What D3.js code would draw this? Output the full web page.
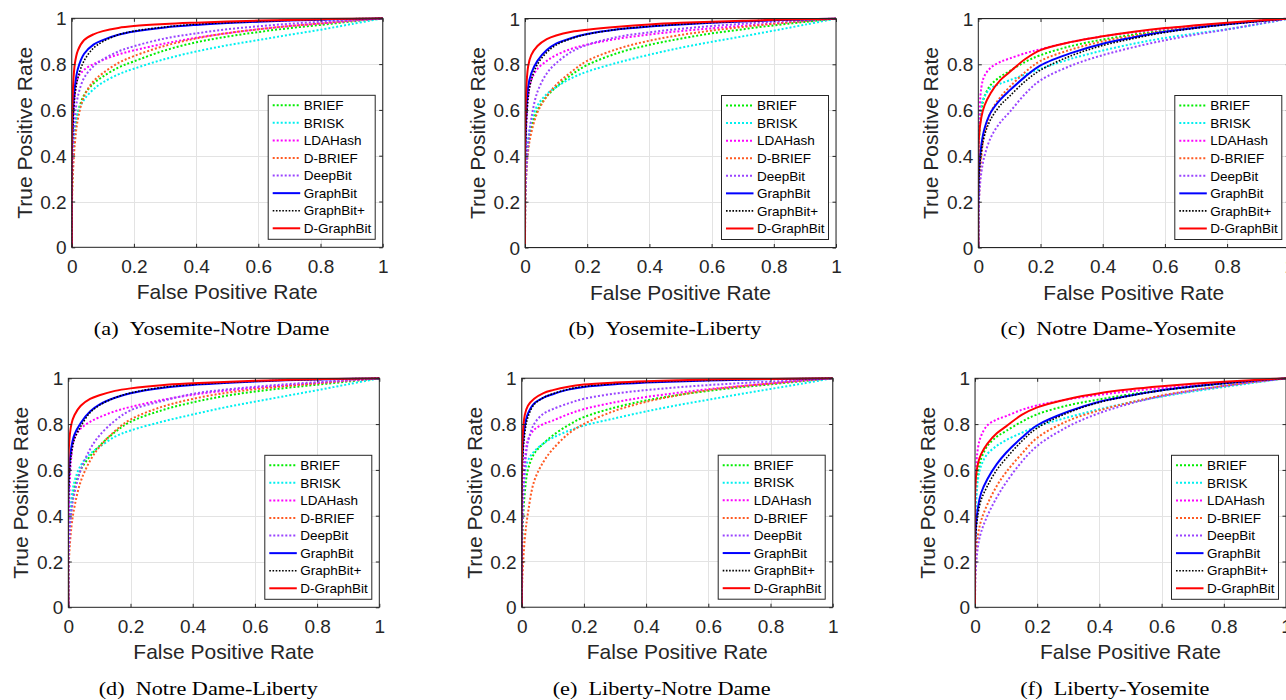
<!DOCTYPE html>
<html>
<head>
<meta charset="utf-8">
<script src="https://cdn.jsdelivr.net/npm/d3@7"></script>
<style>
  html, body { margin: 0; padding: 0; background: #ffffff; }
  svg { display: block; }
</style>
</head>
<body>
<script>
// ---------------- data ----------------
const fpr = [0, 0.002, 0.01, 0.02, 0.04, 0.07, 0.1, 0.15, 0.2, 0.3, 0.4, 0.5, 0.6, 0.7, 0.8, 0.9, 1];
const seriesNames = ["BRIEF", "BRISK", "LDAHash", "D-BRIEF", "DeepBit", "GraphBit", "GraphBit+", "D-GraphBit"];
const xTicks = [0, 0.2, 0.4, 0.6, 0.8, 1];
const yTicks = [0, 0.2, 0.4, 0.6, 0.8, 1];
const captions = ["(a)", "(b)", "(c)", "(d)", "(e)", "(f)"];
const captionNames = ["Yosemite-Notre Dame", "Yosemite-Liberty", "Notre Dame-Yosemite",
                      "Notre Dame-Liberty", "Liberty-Notre Dame", "Liberty-Yosemite"];

// TPR per series (order of seriesNames), sampled at fpr
const tprYosemiteNotreDame = [
  [0, 0.30, 0.50, 0.59, 0.665, 0.715, 0.745, 0.785, 0.812, 0.86, 0.895, 0.92, 0.94, 0.957, 0.971, 0.986, 1],
  [0, 0.35, 0.52, 0.59, 0.645, 0.69, 0.72, 0.755, 0.78, 0.822, 0.855, 0.882, 0.905, 0.928, 0.95, 0.975, 1],
  [0, 0.40, 0.66, 0.74, 0.775, 0.80, 0.818, 0.842, 0.86, 0.89, 0.915, 0.935, 0.952, 0.966, 0.977, 0.989, 1],
  [0, 0.25, 0.45, 0.56, 0.66, 0.725, 0.76, 0.805, 0.835, 0.88, 0.912, 0.935, 0.952, 0.966, 0.978, 0.99, 1],
  [0, 0.35, 0.56, 0.66, 0.74, 0.79, 0.82, 0.855, 0.878, 0.912, 0.934, 0.952, 0.965, 0.976, 0.985, 0.993, 1],
  [0, 0.50, 0.70, 0.78, 0.845, 0.885, 0.905, 0.928, 0.942, 0.96, 0.971, 0.979, 0.985, 0.99, 0.994, 0.997, 1],
  [0, 0.45, 0.66, 0.74, 0.815, 0.87, 0.898, 0.928, 0.944, 0.962, 0.974, 0.981, 0.987, 0.991, 0.995, 0.998, 1],
  [0, 0.62, 0.80, 0.86, 0.905, 0.93, 0.944, 0.958, 0.966, 0.975, 0.981, 0.986, 0.99, 0.993, 0.996, 0.998, 1]
];
const tprYosemiteLiberty = [
  [0, 0.28, 0.44, 0.52, 0.60, 0.66, 0.70, 0.755, 0.797, 0.85, 0.885, 0.912, 0.935, 0.953, 0.97, 0.985, 1],
  [0, 0.30, 0.47, 0.55, 0.62, 0.67, 0.70, 0.74, 0.768, 0.808, 0.842, 0.872, 0.898, 0.922, 0.947, 0.973, 1],
  [0, 0.40, 0.66, 0.73, 0.78, 0.815, 0.84, 0.868, 0.886, 0.912, 0.93, 0.945, 0.957, 0.968, 0.978, 0.989, 1],
  [0, 0.25, 0.42, 0.50, 0.59, 0.66, 0.71, 0.768, 0.815, 0.868, 0.903, 0.928, 0.947, 0.963, 0.977, 0.989, 1],
  [0, 0.25, 0.45, 0.56, 0.68, 0.76, 0.805, 0.855, 0.885, 0.92, 0.94, 0.955, 0.967, 0.977, 0.986, 0.993, 1],
  [0, 0.50, 0.70, 0.76, 0.815, 0.862, 0.89, 0.915, 0.932, 0.953, 0.965, 0.974, 0.981, 0.987, 0.992, 0.996, 1],
  [0, 0.45, 0.65, 0.73, 0.80, 0.852, 0.884, 0.913, 0.931, 0.953, 0.966, 0.975, 0.982, 0.988, 0.993, 0.997, 1],
  [0, 0.62, 0.79, 0.84, 0.88, 0.91, 0.926, 0.942, 0.951, 0.964, 0.974, 0.981, 0.986, 0.99, 0.994, 0.997, 1]
];
const tprNotreDameYosemite = [
  [0, 0.45, 0.60, 0.66, 0.71, 0.745, 0.77, 0.81, 0.84, 0.88, 0.908, 0.93, 0.948, 0.963, 0.977, 0.989, 1],
  [0, 0.50, 0.62, 0.66, 0.695, 0.715, 0.73, 0.755, 0.78, 0.825, 0.86, 0.89, 0.915, 0.935, 0.953, 0.975, 1],
  [0, 0.50, 0.70, 0.75, 0.785, 0.81, 0.825, 0.848, 0.866, 0.898, 0.922, 0.94, 0.955, 0.968, 0.979, 0.99, 1],
  [0, 0.20, 0.40, 0.50, 0.59, 0.655, 0.70, 0.765, 0.815, 0.865, 0.90, 0.925, 0.945, 0.962, 0.977, 0.99, 1],
  [0, 0.20, 0.33, 0.40, 0.48, 0.545, 0.59, 0.67, 0.73, 0.795, 0.84, 0.875, 0.905, 0.93, 0.952, 0.976, 1],
  [0, 0.33, 0.45, 0.52, 0.59, 0.645, 0.685, 0.745, 0.795, 0.85, 0.89, 0.918, 0.942, 0.96, 0.975, 0.988, 1],
  [0, 0.30, 0.42, 0.49, 0.56, 0.62, 0.66, 0.725, 0.775, 0.838, 0.882, 0.913, 0.939, 0.958, 0.974, 0.987, 1],
  [0, 0.48, 0.57, 0.62, 0.675, 0.73, 0.765, 0.822, 0.862, 0.898, 0.922, 0.942, 0.958, 0.97, 0.981, 0.991, 1]
];
const tprNotreDameLiberty = [
  [0, 0.28, 0.43, 0.52, 0.60, 0.66, 0.705, 0.765, 0.81, 0.86, 0.895, 0.922, 0.942, 0.958, 0.972, 0.986, 1],
  [0, 0.30, 0.47, 0.55, 0.62, 0.67, 0.70, 0.745, 0.772, 0.81, 0.842, 0.872, 0.898, 0.923, 0.948, 0.974, 1],
  [0, 0.40, 0.66, 0.74, 0.78, 0.81, 0.83, 0.856, 0.875, 0.905, 0.928, 0.945, 0.958, 0.969, 0.979, 0.99, 1],
  [0, 0.20, 0.35, 0.44, 0.55, 0.64, 0.70, 0.77, 0.82, 0.875, 0.91, 0.935, 0.952, 0.966, 0.978, 0.99, 1],
  [0, 0.25, 0.42, 0.50, 0.60, 0.69, 0.75, 0.815, 0.86, 0.90, 0.932, 0.95, 0.963, 0.974, 0.983, 0.992, 1],
  [0, 0.58, 0.70, 0.755, 0.805, 0.855, 0.885, 0.915, 0.935, 0.958, 0.971, 0.979, 0.986, 0.991, 0.995, 0.998, 1],
  [0, 0.53, 0.67, 0.735, 0.79, 0.85, 0.882, 0.915, 0.936, 0.96, 0.973, 0.981, 0.987, 0.992, 0.995, 0.998, 1],
  [0, 0.70, 0.80, 0.84, 0.88, 0.91, 0.926, 0.945, 0.956, 0.97, 0.978, 0.984, 0.989, 0.993, 0.996, 0.998, 1]
];
const tprLibertyNotreDame = [
  [0, 0.30, 0.50, 0.60, 0.67, 0.715, 0.75, 0.795, 0.83, 0.872, 0.903, 0.926, 0.945, 0.96, 0.973, 0.987, 1],
  [0, 0.40, 0.58, 0.64, 0.68, 0.715, 0.74, 0.77, 0.793, 0.825, 0.855, 0.882, 0.906, 0.93, 0.953, 0.976, 1],
  [0, 0.40, 0.64, 0.73, 0.775, 0.80, 0.815, 0.843, 0.865, 0.895, 0.918, 0.936, 0.952, 0.965, 0.977, 0.989, 1],
  [0, 0.12, 0.30, 0.41, 0.55, 0.635, 0.69, 0.757, 0.80, 0.858, 0.897, 0.925, 0.948, 0.964, 0.977, 0.99, 1],
  [0, 0.35, 0.60, 0.72, 0.80, 0.845, 0.865, 0.89, 0.91, 0.933, 0.948, 0.96, 0.97, 0.978, 0.985, 0.993, 1],
  [0, 0.65, 0.79, 0.845, 0.89, 0.915, 0.93, 0.95, 0.962, 0.974, 0.981, 0.986, 0.99, 0.993, 0.996, 0.998, 1],
  [0, 0.60, 0.76, 0.83, 0.885, 0.915, 0.932, 0.952, 0.964, 0.976, 0.983, 0.988, 0.991, 0.994, 0.996, 0.998, 1],
  [0, 0.72, 0.84, 0.88, 0.91, 0.935, 0.948, 0.963, 0.972, 0.981, 0.987, 0.991, 0.994, 0.996, 0.997, 0.999, 1]
];
const tprLibertyYosemite = [
  [0, 0.45, 0.59, 0.65, 0.705, 0.745, 0.77, 0.81, 0.843, 0.882, 0.908, 0.93, 0.948, 0.963, 0.977, 0.989, 1],
  [0, 0.40, 0.56, 0.62, 0.67, 0.705, 0.73, 0.762, 0.79, 0.83, 0.865, 0.895, 0.92, 0.942, 0.962, 0.981, 1],
  [0, 0.55, 0.70, 0.75, 0.795, 0.82, 0.835, 0.862, 0.882, 0.908, 0.928, 0.944, 0.957, 0.969, 0.98, 0.99, 1],
  [0, 0.20, 0.32, 0.38, 0.45, 0.53, 0.59, 0.67, 0.74, 0.815, 0.86, 0.895, 0.925, 0.948, 0.967, 0.985, 1],
  [0, 0.15, 0.27, 0.33, 0.40, 0.48, 0.545, 0.635, 0.705, 0.79, 0.848, 0.89, 0.922, 0.946, 0.966, 0.984, 1],
  [0, 0.33, 0.44, 0.50, 0.56, 0.625, 0.675, 0.74, 0.795, 0.855, 0.898, 0.925, 0.948, 0.964, 0.978, 0.99, 1],
  [0, 0.30, 0.41, 0.47, 0.53, 0.60, 0.65, 0.725, 0.783, 0.85, 0.895, 0.924, 0.947, 0.964, 0.978, 0.99, 1],
  [0, 0.55, 0.63, 0.67, 0.715, 0.76, 0.79, 0.84, 0.873, 0.91, 0.935, 0.952, 0.965, 0.976, 0.985, 0.993, 1]
];
const panelData = [tprYosemiteNotreDame, tprYosemiteLiberty, tprNotreDameYosemite,
                   tprNotreDameLiberty, tprLibertyNotreDame, tprLibertyYosemite];

// ---------------- styles / layout ----------------
const seriesStyle = [
  { color: "#00ee00", width: 2,   dash: "2,2" },
  { color: "#00f0f0", width: 2,   dash: "2,2" },
  { color: "#ff00ff", width: 2,   dash: "2,2" },
  { color: "#ff5a22", width: 2,   dash: "2,2" },
  { color: "#9944ff", width: 2,   dash: "2,2" },
  { color: "#0000ff", width: 2,   dash: null },
  { color: "#000000", width: 1.6, dash: "1.6,1.6" },
  { color: "#ff0000", width: 2,   dash: null }
];
const panelPos = [
  { left: 71.7, top: 18.3 }, { left: 525, top: 18.5 }, { left: 978.3, top: 18.5 },
  { left: 68.3, top: 378.3 }, { left: 521.7, top: 378.2 }, { left: 975, top: 378.3 }
];
const W = 311, H = 229;
const AX = "#262626";
const SANS = "'Liberation Sans', Arial, Helvetica, sans-serif";
const SERIF = "'Liberation Serif', 'Times New Roman', serif";

const svg = d3.select("body").append("svg")
  .attr("width", 1286).attr("height", 700)
  .attr("viewBox", "0 0 1286 700");

const x = d3.scaleLinear().domain([0, 1]).range([0, W]);
const y = d3.scaleLinear().domain([0, 1]).range([H, 0]);
const fmt = d3.format("~g");

panelData.forEach((tprs, pi) => {
  const pos = panelPos[pi];
  const g = svg.append("g").attr("transform", `translate(${pos.left},${pos.top})`);

  // background
  g.append("rect").attr("width", W).attr("height", H).attr("fill", "#fff");

  // grid
  const gx = g.append("g").attr("transform", `translate(0,${H})`)
    .call(d3.axisBottom(x).tickValues(xTicks).tickSize(-H).tickFormat(""));
  const gy = g.append("g")
    .call(d3.axisLeft(y).tickValues(yTicks).tickSize(-W).tickFormat(""));
  [gx, gy].forEach(a => {
    a.select(".domain").remove();
    a.selectAll("line").attr("stroke", "#e3e3e3").attr("stroke-width", 1).attr("shape-rendering", "crispEdges");
  });

  // curves
  const clipId = "clip" + pi;
  g.append("clipPath").attr("id", clipId)
    .append("rect").attr("x", 0).attr("y", -1).attr("width", W + 1).attr("height", H + 1);
  const line = d3.line()
    .x((d, i) => x(fpr[i]))
    .y(d => y(d))
    .curve(d3.curveCatmullRom.alpha(0.5));
  const lg = g.append("g").attr("clip-path", `url(#${clipId})`);
  tprs.forEach((vals, si) => {
    const st = seriesStyle[si];
    lg.append("path")
      .datum(vals)
      .attr("d", line)
      .attr("fill", "none")
      .attr("stroke", st.color)
      .attr("stroke-width", st.width)
      .attr("stroke-dasharray", st.dash)
      .attr("stroke-linejoin", "round");
  });

  // axes with inward ticks
  const tickLen = 3.5;
  const bottom = g.append("g").attr("transform", `translate(0,${H})`)
    .call(d3.axisBottom(x).tickValues(xTicks).tickSizeInner(-tickLen).tickSizeOuter(0)
      .tickPadding(12).tickFormat(fmt));
  const left = g.append("g")
    .call(d3.axisLeft(y).tickValues(yTicks).tickSizeInner(-tickLen).tickSizeOuter(0)
      .tickPadding(5).tickFormat(fmt));
  const top = g.append("g")
    .call(d3.axisTop(x).tickValues(xTicks).tickSizeInner(-tickLen).tickSizeOuter(0).tickFormat(""));
  const right = g.append("g").attr("transform", `translate(${W},0)`)
    .call(d3.axisRight(y).tickValues(yTicks).tickSizeInner(-tickLen).tickSizeOuter(0).tickFormat(""));
  [bottom, left, top, right].forEach(a => {
    a.select(".domain").remove();
    a.attr("color", AX);
    a.selectAll("line").attr("stroke-width", 1);
    a.selectAll("text").attr("font-family", SANS).attr("font-size", 19).attr("fill", AX);
  });
  bottom.selectAll("text").attr("dy", "0.71em");
  left.selectAll("text").attr("dy", "0.35em");

  // box
  g.append("rect").attr("width", W).attr("height", H)
    .attr("fill", "none").attr("stroke", AX).attr("stroke-width", 1);

  // axis labels
  g.append("text")
    .attr("x", W / 2).attr("y", H + 52)
    .attr("text-anchor", "middle")
    .attr("font-family", SANS).attr("font-size", 21).attr("fill", AX)
    .text("False Positive Rate");
  g.append("text")
    .attr("transform", `translate(-40,${H / 2}) rotate(-90)`)
    .attr("text-anchor", "middle")
    .attr("font-family", SANS).attr("font-size", 21).attr("fill", AX)
    .text("True Positive Rate");

  // legend
  const lw = 107, lh = 144;
  const lgd = g.append("g").attr("transform", `translate(${W - 7.5 - lw},${H - 8 - lh})`);
  lgd.append("rect").attr("width", lw).attr("height", lh)
    .attr("fill", "#fff").attr("stroke", AX).attr("stroke-width", 1);
  seriesNames.forEach((name, si) => {
    const st = seriesStyle[si];
    const ry = 10 + si * 17.57;
    lgd.append("line")
      .attr("x1", 4.5).attr("x2", 32).attr("y1", ry).attr("y2", ry)
      .attr("stroke", st.color).attr("stroke-width", st.width)
      .attr("stroke-dasharray", st.dash);
    lgd.append("text")
      .attr("x", 35.5).attr("y", ry).attr("dy", "0.35em")
      .attr("font-family", SANS).attr("font-size", 13.5).attr("fill", "#000")
      .text(name);
  });

  // caption
  const cap = g.append("text")
    .attr("x", W / 2 - 15.6).attr("y", H + 87.7)
    .attr("text-anchor", "middle")
    .attr("font-family", SERIF).attr("font-size", 19).attr("fill", "#000")
    .text(captions[pi] + "\u2002" + captionNames[pi]);
  const natural = cap.node().getComputedTextLength();
  cap.attr("textLength", natural * 1.17).attr("lengthAdjust", "spacingAndGlyphs");
});
</script>
</body>
</html>
